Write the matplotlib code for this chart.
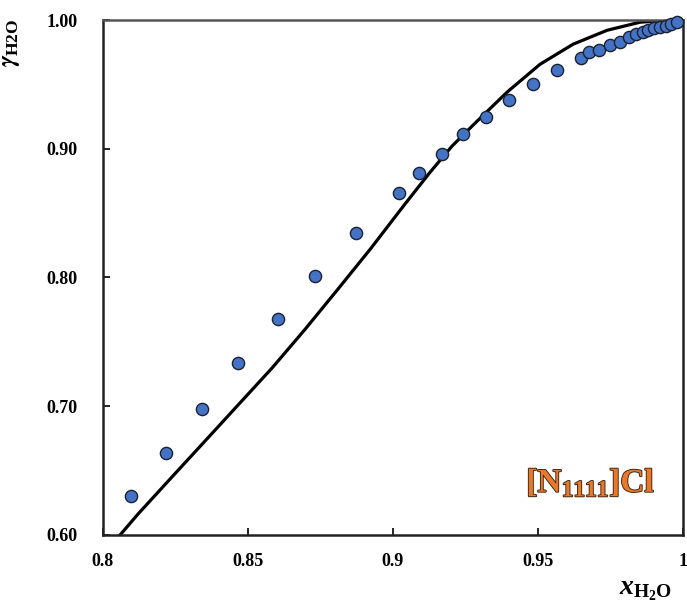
import numpy as np
import matplotlib
matplotlib.use('Agg')
import matplotlib.pyplot as plt
import matplotlib.patheffects as pe

plt.rcParams['font.family'] = ['Liberation Serif', 'DejaVu Serif']
plt.rcParams['font.weight'] = 'bold'
plt.rcParams['mathtext.fontset'] = 'custom'
plt.rcParams['mathtext.rm'] = 'Liberation Serif:bold'
plt.rcParams['mathtext.bf'] = 'Liberation Serif:bold'
plt.rcParams['mathtext.it'] = 'Liberation Serif:italic:bold'
plt.rcParams['mathtext.sf'] = 'STIXGeneral:italic:bold'

# experimental water activity coefficients
x_exp = [0.8096, 0.8217, 0.8340, 0.8467, 0.8602, 0.8731, 0.8874, 0.9021,
         0.9091, 0.9168, 0.9242, 0.9320, 0.9401, 0.9482, 0.9564, 0.9647,
         0.9677, 0.9711, 0.9748, 0.9783, 0.9814, 0.9838, 0.9861, 0.9880,
         0.9901, 0.9921, 0.9940, 0.9959, 0.9978]
g_exp = [0.6305, 0.6635, 0.6979, 0.7334, 0.7678, 0.8012, 0.8342, 0.8659,
         0.8814, 0.8959, 0.9112, 0.9244, 0.9379, 0.9503, 0.9612, 0.9703,
         0.9749, 0.9767, 0.9806, 0.9831, 0.9870, 0.9889, 0.9904, 0.9922,
         0.9935, 0.9948, 0.9956, 0.9967, 0.9983]

# model curve
x_mod = [0.8059, 0.8121, 0.8238, 0.8352, 0.8466, 0.8583, 0.8697, 0.8810,
         0.8924, 0.9038, 0.9128, 0.9203, 0.9279, 0.9393, 0.9507, 0.9621,
         0.9738, 0.9852, 0.9945, 1.0000]
g_mod = [0.6000, 0.6163, 0.6451, 0.6730, 0.7010, 0.7297, 0.7598, 0.7909,
         0.8227, 0.8561, 0.8818, 0.9019, 0.9190, 0.9439, 0.9656, 0.9812,
         0.9920, 0.9983, 0.9998, 1.0000]

xticks = [0.8, 0.85, 0.9, 0.95, 1.0]
xtick_labels = ['0.8', '0.85', '0.9', '0.95', '1']
yticks = [0.6, 0.7, 0.8, 0.9, 1.0]
ytick_labels = ['0.60', '0.70', '0.80', '0.90', '1.00']

fig = plt.figure(figsize=(6.87, 6.08), dpi=100)
ax = fig.add_axes([0.1499, 0.1201, 0.8443, 0.8470])

ax.plot(x_mod, g_mod, color='black', lw=2.3, solid_joinstyle='round', zorder=2)
ax.plot(x_exp, g_exp, 'o', ms=8.8, mfc='#4472C4', mec='#1a2230', mew=1.0,
        zorder=3, clip_on=False)

ax.set_xlim(0.8, 1.0)
ax.set_ylim(0.6, 1.0)
ax.set_xticks(xticks)
ax.set_xticklabels(xtick_labels)
ax.set_yticks(yticks)
ax.set_yticklabels(ytick_labels)
ax.tick_params(direction='in', length=5, width=1.2, labelsize=13)
ax.tick_params(axis='x', pad=13)
ax.tick_params(axis='y', pad=18)
for lab in ax.get_xticklabels() + ax.get_yticklabels():
    lab.set_fontweight('bold')

for side in ['left', 'bottom', 'right']:
    ax.spines[side].set_linewidth(1.8)
    ax.spines[side].set_color('#222222')
ax.spines['top'].set_linewidth(1.8)
ax.spines['top'].set_color('#555555')

ax.set_ylabel(r'$\mathsf{\gamma}_{\mathrm{H2O}}$', fontsize=18, rotation=90)
ax.yaxis.set_label_coords(-0.14, 0.955)
ax.set_xlabel(r'$\mathit{x}_{\mathrm{H_2O}}$', fontsize=20)
ax.xaxis.set_label_coords(0.936, -0.083)

t = ax.text(0.952, 0.0835, r'$\mathrm{[N_{1111}]Cl}$', transform=ax.transAxes,
            ha='right', va='baseline', fontsize=24, color='#E8782A')
t.set_path_effects([pe.Stroke(linewidth=1.3, foreground='#3a2410'), pe.Normal()])

plt.savefig('out.png', dpi=100)
